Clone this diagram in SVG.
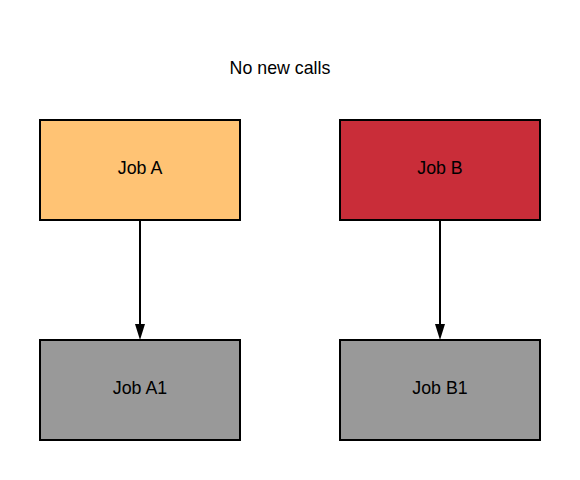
<svg xmlns="http://www.w3.org/2000/svg" width="580" height="480" viewBox="0 0 580 480">
<style>
.box{stroke:#000;stroke-width:2}
.lbl{font-family:"Liberation Sans",Arial,sans-serif;font-size:17.8px;fill:#000;text-anchor:middle;dominant-baseline:central}
.edge{stroke:#000;stroke-width:2;fill:none}
.head{fill:#000}
</style>
<rect width="580" height="480" fill="#fff"/>
<text class="lbl" x="280" y="68">No new calls</text>
<g id="connectors">
<path class="edge" d="M140,220 L140,324"/>
<path class="head" d="M135,324 L145,324 L140,340 Z"/>
<path class="edge" d="M440,220 L440,324"/>
<path class="head" d="M435,324 L445,324 L440,340 Z"/>
</g>
<g id="jobA"><rect class="box" x="40" y="120" width="200" height="100" fill="#ffc374"/><text class="lbl" x="140" y="168">Job A</text></g>
<g id="jobB"><rect class="box" x="340" y="120" width="200" height="100" fill="#c92d39"/><text class="lbl" x="440" y="168">Job B</text></g>
<g id="jobA1"><rect class="box" x="40" y="340" width="200" height="100" fill="#999999"/><text class="lbl" x="140" y="388">Job A1</text></g>
<g id="jobB1"><rect class="box" x="340" y="340" width="200" height="100" fill="#999999"/><text class="lbl" x="440" y="388">Job B1</text></g>
</svg>
